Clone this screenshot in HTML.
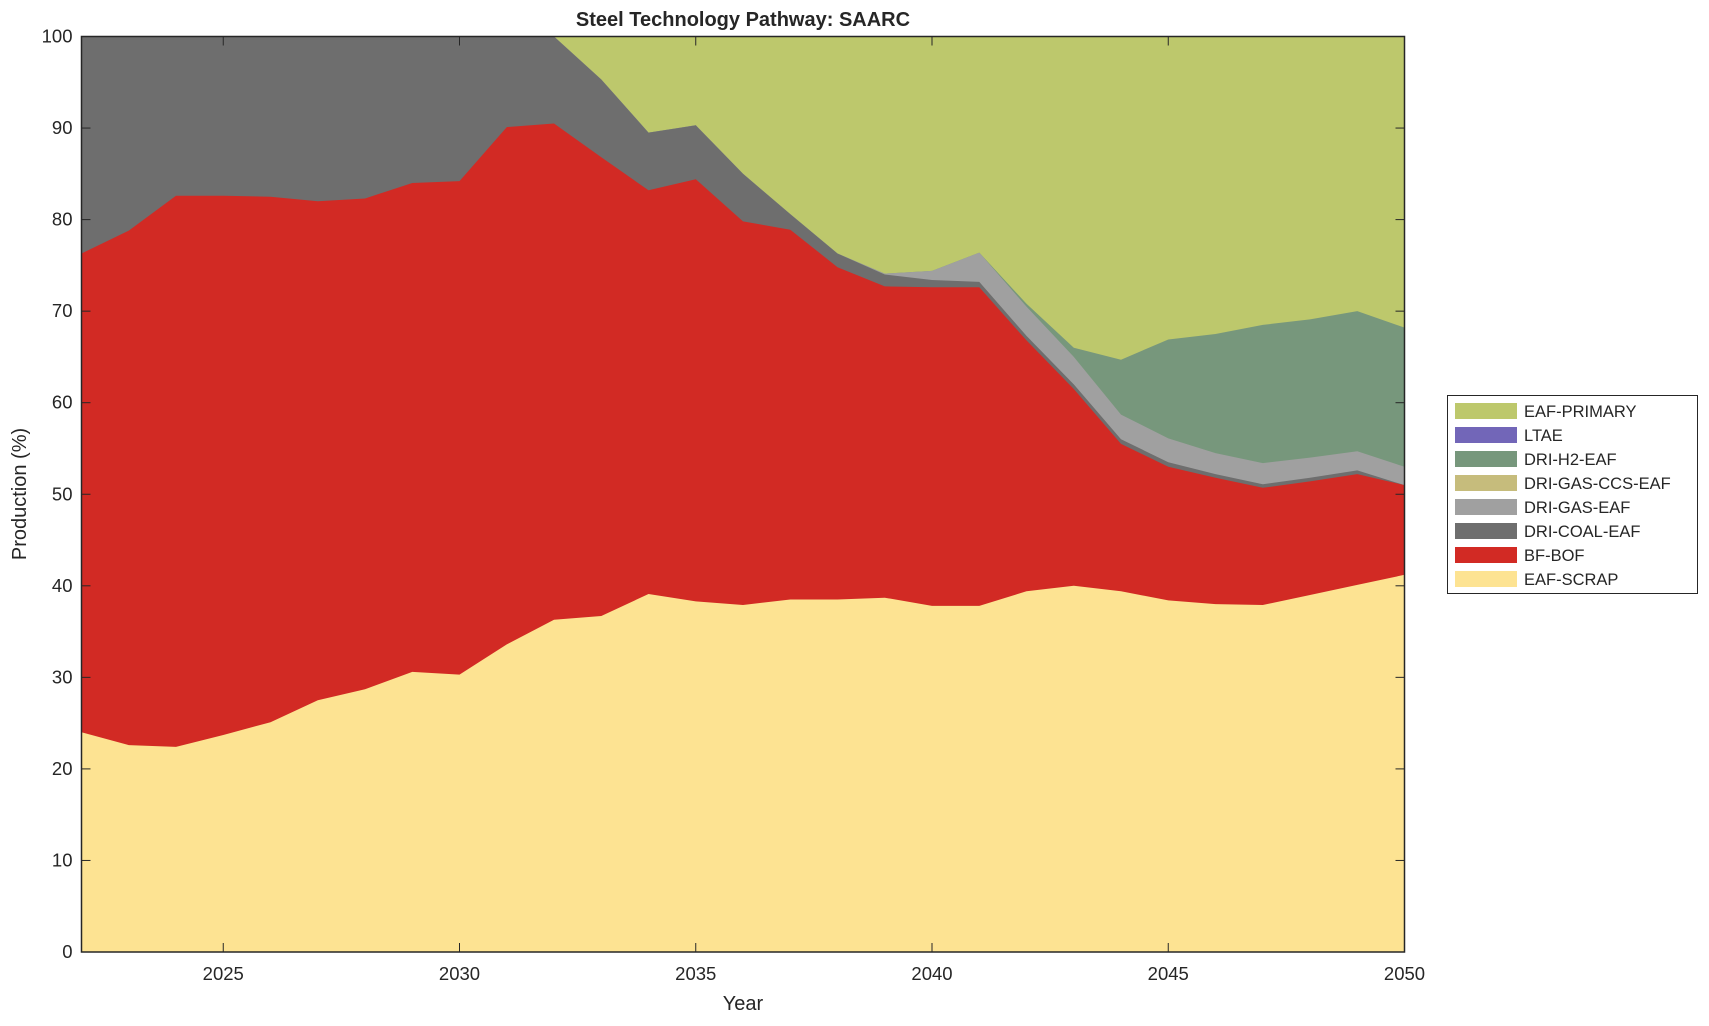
<!DOCTYPE html>
<html><head><meta charset="utf-8"><style>
body{margin:0;background:#fff;}
svg text{font-family:"Liberation Sans",Helvetica,Arial,sans-serif;fill:#262626;}
</style></head><body>
<svg id="s" width="1709" height="1021" xmlns="http://www.w3.org/2000/svg"></svg>
<script>
const L=81.5,R=1404.5,T=36.5,B=952;
const X=y=>L+(y-2022)*(R-L)/28, Y=v=>B-v*(B-T)/100;
const scrap=[24,22.6,22.4,23.7,25.1,27.5,28.7,30.6,30.3,33.6,36.3,36.7,39.1,38.3,37.9,38.5,38.5,38.7,37.8,37.8,39.4,40.0,39.4,38.4,38.0,37.9,39.0,40.1,41.2];
const bof=[76.3,78.8,82.6,82.6,82.5,82.0,82.3,84.0,84.2,90.1,90.5,86.8,83.2,84.4,79.8,78.9,74.8,72.7,72.6,72.6,66.8,61.5,55.5,53.0,51.8,50.7,51.4,52.2,51.0];
const coal=[100,100,100,100,100,100,100,100,100,100,100,95.3,89.5,90.3,85.0,80.6,76.3,74.0,73.4,73.2,67.3,62.0,56.0,53.5,52.2,51.1,51.8,52.6,51.0];
const gas=[100,100,100,100,100,100,100,100,100,100,100,95.3,89.5,90.3,85.0,80.6,76.3,74.1,74.4,76.4,70.5,65.0,58.7,56.1,54.5,53.4,54.0,54.7,53.0];
const h2=[100,100,100,100,100,100,100,100,100,100,100,95.3,89.5,90.3,85.0,80.6,76.3,74.1,74.4,76.4,70.8,66.0,64.7,66.9,67.5,68.5,69.1,70.0,68.2];
let h='';
h+=`<rect x="${L}" y="${T}" width="${R-L}" height="${B-T}" fill="#bdc86c"/>`;
function poly(d,c){let p=d.map((v,i)=>X(2022+i).toFixed(1)+','+Y(v).toFixed(1)).join(' ');p+=` ${R},${B} ${L},${B}`;h+=`<polygon points="${p}" fill="${c}"/>`;}
poly(h2,'#77977c');poly(gas,'#a0a0a0');poly(coal,'#6e6e6e');poly(bof,'#d22a24');poly(scrap,'#fde392');
h+=`<rect x="${L}" y="${T}" width="${R-L}" height="${B-T}" fill="none" stroke="#262626" stroke-width="1.5"/>`;
for(let v=0;v<=100;v+=10){const y=Y(v);h+=`<line x1="${L}" x2="${L+9}" y1="${y}" y2="${y}" stroke="#262626"/><line x1="${R}" x2="${R-9}" y1="${y}" y2="${y}" stroke="#262626"/><text x="${L-9}" y="${y+6}" font-size="18.5" text-anchor="end">${v}</text>`;}
for(let yr=2025;yr<=2050;yr+=5){const x=X(yr);h+=`<line x1="${x}" x2="${x}" y1="${B}" y2="${B-9}" stroke="#262626"/><line x1="${x}" x2="${x}" y1="${T}" y2="${T+9}" stroke="#262626"/><text x="${x}" y="${B+28}" font-size="18.5" text-anchor="middle">${yr}</text>`;}
h+=`<text x="${(L+R)/2}" y="26" font-size="20" font-weight="bold" text-anchor="middle" fill="#000">Steel Technology Pathway: SAARC</text>`;
h+=`<text x="${(L+R)/2}" y="1010" font-size="20" text-anchor="middle">Year</text>`;
h+=`<text transform="translate(26,494) rotate(-90)" font-size="20" text-anchor="middle">Production (%)</text>`;
h+=`<rect x="1447.5" y="395.5" width="250" height="198" fill="#fff" stroke="#262626" stroke-width="1"/>`;
const lg=[['EAF-PRIMARY','#bdc86c'],['LTAE','#7266b8'],['DRI-H2-EAF','#77977c'],['DRI-GAS-CCS-EAF','#c6bc7c'],['DRI-GAS-EAF','#a0a0a0'],['DRI-COAL-EAF','#6e6e6e'],['BF-BOF','#d22a24'],['EAF-SCRAP','#fde392']];
lg.forEach((e,i)=>{const y=411+i*24;h+=`<rect x="1455" y="${y-8}" width="62" height="16" fill="${e[1]}"/><text x="1524" y="${y+6}" font-size="16.5" fill="#000">${e[0]}</text>`;});
document.getElementById('s').innerHTML=h;
</script>
</body></html>
